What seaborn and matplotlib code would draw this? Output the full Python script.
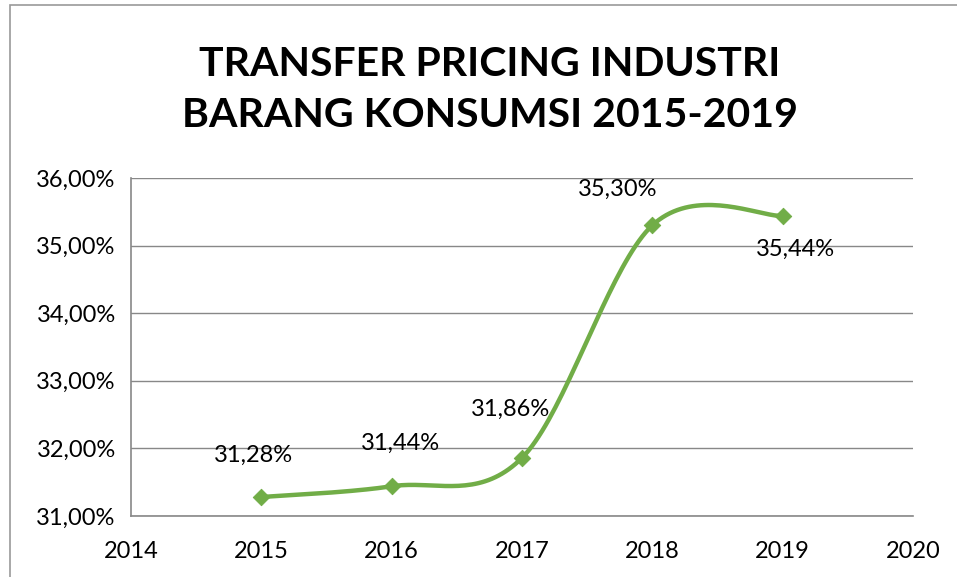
import numpy as np
import pandas as pd
import matplotlib
matplotlib.use("Agg")
import matplotlib.pyplot as plt
import seaborn as sns
from matplotlib.patches import Rectangle

years = [2015, 2016, 2017, 2018, 2019]
values = [31.28, 31.44, 31.86, 35.30, 35.44]
labels = ["31,28%", "31,44%", "31,86%", "35,30%", "35,44%"]
y_ticks = [31, 32, 33, 34, 35, 36]
x_ticks = [2014, 2015, 2016, 2017, 2018, 2019, 2020]
title = "TRANSFER PRICING INDUSTRI\nBARANG KONSUMSI 2015-2019"

sns.set_theme(style="white")
plt.rcParams['font.family'] = ['Lato', 'DejaVu Sans']

GREEN = '#71AD47'
GRAY = '#888888'


def excel_smooth(x, y, n=40):
    # Bezier smoothing like Excel's "smoothed line"
    x = np.asarray(x, float)
    y = np.asarray(y, float)
    xs, ys = [], []
    for i in range(len(x) - 1):
        i0 = max(i - 1, 0)
        i3 = min(i + 2, len(x) - 1)
        p0 = np.array([x[i], y[i]])
        p3 = np.array([x[i + 1], y[i + 1]])
        c1 = p0 + (np.array([x[i + 1], y[i + 1]]) - np.array([x[i0], y[i0]])) / 6
        c2 = p3 - (np.array([x[i3], y[i3]]) - np.array([x[i], y[i]])) / 6
        t = np.linspace(0, 1, n)[:, None]
        pts = (1 - t) ** 3 * p0 + 3 * (1 - t) ** 2 * t * c1 + 3 * (1 - t) * t ** 2 * c2 + t ** 3 * p3
        xs.extend(pts[:, 0])
        ys.extend(pts[:, 1])
    return pd.DataFrame({'x': xs, 'y': ys})


df = pd.DataFrame({'year': years, 'value': values})
curve = excel_smooth(years, values)

fig = plt.figure(figsize=(9.57, 5.77), dpi=100)
ax = fig.add_axes([131 / 957, 1 - 516 / 577, (913 - 131) / 957, (516 - 178) / 577])

sns.lineplot(data=curve, x='x', y='y', ax=ax, color=GREEN, linewidth=3.2, sort=False)
sns.scatterplot(data=df, x='year', y='value', ax=ax, marker='D', color=GREEN, s=70,
                edgecolor=GREEN, zorder=5)

offsets = [(-6, 30), (6, 31), (-8, 35), (-25, 26), (9, -24)]
for xv, yv, lab, off in zip(years, values, labels, offsets):
    ax.annotate(lab, (xv, yv), xytext=off, textcoords='offset points',
                ha='center', va='center', fontsize=17, color='black')

ax.set_xlim(2014, 2020)
ax.set_ylim(31, 36)
ax.set_xticks(x_ticks)
ax.set_xticklabels([str(v) for v in x_ticks])
ax.set_yticks(y_ticks)
ax.set_yticklabels([f"{v},00%" for v in y_ticks])
ax.set_xlabel('')
ax.set_ylabel('')
ax.grid(axis='y', color=GRAY, linewidth=1)
ax.grid(axis='x', visible=False)
for s in ['top', 'right']:
    ax.spines[s].set_visible(False)
for s in ['left', 'bottom']:
    ax.spines[s].set_color(GRAY)
    ax.spines[s].set_linewidth(1.2)
ax.tick_params(axis='both', length=6, width=1.2, color=GRAY, labelsize=17,
               labelcolor='black', direction='out')
ax.tick_params(axis='x', pad=12)
ax.tick_params(axis='y', pad=5)
ax.set_axisbelow(True)

fig.text(490 / 957, 1 - 90 / 577, title, ha='center', va='center', fontsize=29.5,
         fontweight='bold', color='black', linespacing=1.45)

# chart frame (left and top edges visible)
fig.patches.append(Rectangle((10 / 957, -0.1), 1.2, 1 - 5 / 577 + 0.1,
                             transform=fig.transFigure, fill=False,
                             edgecolor='#999999', linewidth=1.2))

fig.savefig('out.png', dpi=100)
